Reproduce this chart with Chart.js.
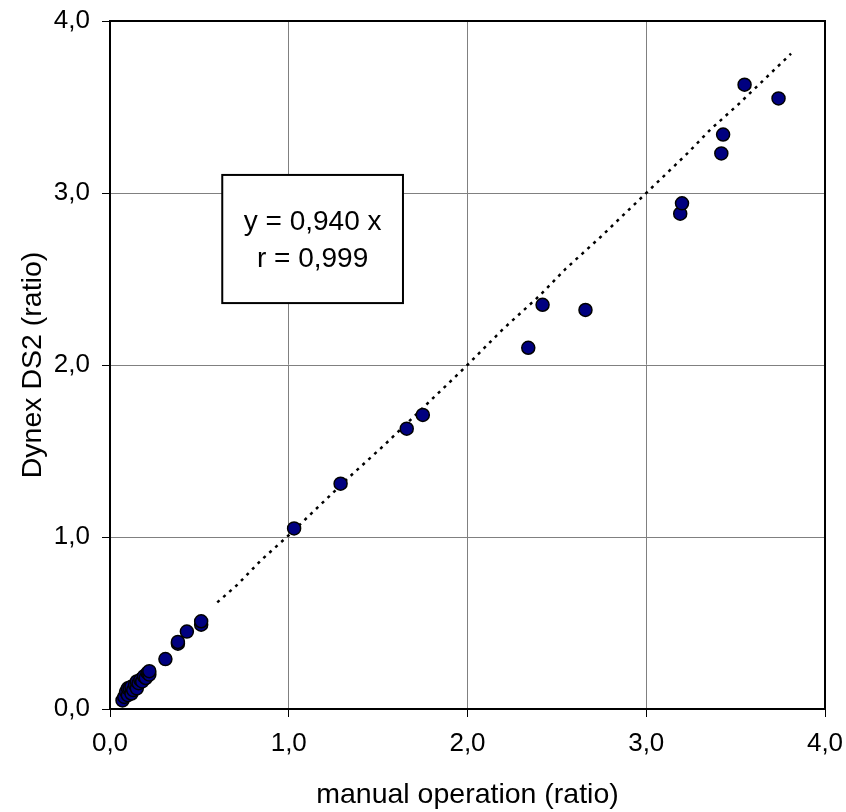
<!DOCTYPE html>
<html>
<head>
<meta charset="utf-8">
<script src="https://cdn.jsdelivr.net/npm/chart.js@4"></script>
<style>
  html, body { margin: 0; padding: 0; background: #fff; }
  #wrap { width: 846px; height: 812px; }
</style>
</head>
<body>
<div id="wrap"><canvas id="chart" width="846" height="812"></canvas></div>
<script>
// measured points: manual operation (x) vs Dynex DS2 (y)
const manualX = [0.07, 0.08, 0.09, 0.10, 0.10, 0.11, 0.12, 0.12, 0.13, 0.14, 0.15, 0.15, 0.16, 0.17, 0.18, 0.19, 0.20, 0.21, 0.22, 0.22,
  0.31, 0.38, 0.38, 0.43, 0.51, 0.51, 1.03, 1.29, 1.66, 1.75, 2.34, 2.42, 2.66, 3.19, 3.20, 3.42, 3.43, 3.55, 3.74];
const dynexY = [0.05, 0.07, 0.10, 0.08, 0.12, 0.12, 0.09, 0.13, 0.11, 0.14, 0.12, 0.16, 0.15, 0.17, 0.16, 0.19, 0.18, 0.21, 0.20, 0.22,
  0.29, 0.38, 0.39, 0.45, 0.49, 0.51, 1.05, 1.31, 1.63, 1.71, 2.10, 2.35, 2.32, 2.88, 2.94, 3.23, 3.34, 3.63, 3.55];

// dotted trend line, vertices
const trendX = [0.60, 0.71, 0.85, 1.00, 1.34, 1.53, 1.68, 1.77, 1.98, 2.20, 2.40, 2.55, 2.74, 2.85, 2.99, 3.13, 3.23, 3.36, 3.52, 3.66, 3.77, 3.81];
const trendY = [0.62, 0.72, 0.87, 1.01, 1.35, 1.53, 1.68, 1.77, 1.98, 2.21, 2.40, 2.56, 2.74, 2.85, 2.99, 3.13, 3.23, 3.37, 3.52, 3.66, 3.77, 3.81];

const tickValues = [0, 1, 2, 3, 4];
const boxLines = ["y = 0,940 x", "r = 0,999"];

const fmt = v => v.toFixed(1).replace(".", ",");

const frame = {
  id: "frame",
  afterDatasetsDraw(chart) {
    const { ctx, chartArea: a, scales: { x, y } } = chart;
    ctx.save();
    ctx.strokeStyle = "#000";
    ctx.lineWidth = 2;
    ctx.strokeRect(a.left, a.top, a.right - a.left, a.bottom - a.top);

    // equation box
    const l = x.getPixelForValue(0.628), r = x.getPixelForValue(1.639);
    const t = y.getPixelForValue(3.105), b = y.getPixelForValue(2.36);
    ctx.fillStyle = "#fff";
    ctx.fillRect(l, t, r - l, b - t);
    ctx.strokeRect(l, t, r - l, b - t);
    ctx.fillStyle = "#000";
    ctx.font = "28px 'Liberation Sans', Arial, sans-serif";
    ctx.textAlign = "center";
    ctx.textBaseline = "middle";
    const cx = (l + r) / 2, cy = (t + b) / 2;
    ctx.fillText(boxLines[0], cx, cy - 17);
    ctx.fillText(boxLines[1], cx, cy + 20);
    ctx.restore();
  }
};

const tickFont = { family: "'Liberation Sans', Arial, sans-serif", size: 26 };
const titleFont = { family: "'Liberation Sans', Arial, sans-serif", size: 28.5 };

new Chart(document.getElementById("chart"), {
  type: "scatter",
  data: {
    datasets: [{
      label: "points",
      data: manualX.map((v, i) => ({ x: v, y: dynexY[i] })),
      backgroundColor: "#000080",
      borderColor: "#000",
      borderWidth: 1.5,
      pointRadius: 6.5,
      pointHoverRadius: 6.5
    }, {
      label: "trend",
      type: "line",
      data: trendX.map((v, i) => ({ x: v, y: trendY[i] })),
      borderColor: "#000",
      borderWidth: 2.5,
      borderDash: [3, 5],
      pointRadius: 0,
      fill: false,
      tension: 0
    }]
  },
  options: {
    responsive: false,
    animation: false,
    layout: { padding: { left: 0, top: 21, right: 21, bottom: 0 } },
    plugins: { legend: { display: false }, tooltip: { enabled: false } },
    scales: {
      x: {
        type: "linear",
        min: 0, max: 4,
        afterBuildTicks: s => { s.ticks = tickValues.map(v => ({ value: v })); },
        afterFit: s => { s.height = 103; s.paddingLeft = 0; s.paddingRight = 0; },
        ticks: { callback: fmt, font: tickFont, color: "#000", padding: 11, maxRotation: 0 },
        grid: { color: "#808080", lineWidth: 1, tickColor: "#000", tickLength: 8 },
        border: { color: "#000", width: 2 },
        title: { display: true, text: "manual operation (ratio)", font: titleFont, color: "#000", padding: { top: 0, bottom: 0 } }
      },
      y: {
        type: "linear",
        min: 0, max: 4,
        afterBuildTicks: s => { s.ticks = tickValues.map(v => ({ value: v })); },
        afterFit: s => { s.width = 110; s.paddingTop = 0; s.paddingBottom = 0; },
        ticks: { callback: fmt, font: tickFont, color: "#000", padding: 12 },
        grid: { color: "#808080", lineWidth: 1, tickColor: "#000", tickLength: 8 },
        border: { color: "#000", width: 2 },
        title: { display: true, text: "Dynex DS2 (ratio)", font: titleFont, color: "#000", padding: { top: 16, bottom: 0 } }
      }
    }
  },
  plugins: [frame]
});
</script>
</body>
</html>
